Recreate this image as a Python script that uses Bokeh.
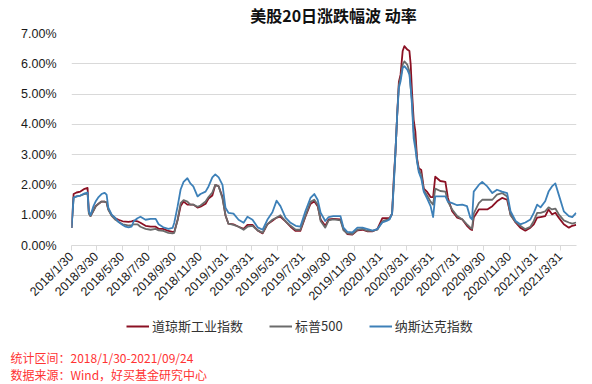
import math
from datetime import datetime, timezone
import pandas as pd
from bokeh.plotting import figure
from bokeh.layouts import column
from bokeh.models import Range1d, FixedTicker, Legend, LegendItem, Label
from bokeh.embed import file_html
from bokeh.resources import INLINE

# ---------------- data ----------------
dates = [
    "2018-01-30", "2018-02-04", "2018-02-11", "2018-02-20", "2018-03-02", "2018-03-09", "2018-03-12", "2018-03-16", "2018-03-23", "2018-03-28",
    "2018-04-04", "2018-04-11", "2018-04-18", "2018-04-23", "2018-04-27", "2018-05-05", "2018-05-14", "2018-05-21", "2018-05-31", "2018-06-07",
    "2018-06-14", "2018-06-21", "2018-06-26", "2018-07-05", "2018-07-12", "2018-07-24", "2018-08-05", "2018-08-17", "2018-08-24", "2018-09-04",
    "2018-09-16", "2018-09-26", "2018-09-30", "2018-10-08", "2018-10-15", "2018-10-22", "2018-10-31", "2018-11-07", "2018-11-14", "2018-11-24",
    "2018-12-01", "2018-12-13", "2018-12-20", "2018-12-29", "2019-01-05", "2019-01-13", "2019-01-22", "2019-01-29", "2019-02-05", "2019-02-17",
    "2019-03-01", "2019-03-13", "2019-03-22", "2019-04-03", "2019-04-15", "2019-04-27", "2019-05-08", "2019-05-20", "2019-05-30", "2019-06-08",
    "2019-06-20", "2019-07-02", "2019-07-14", "2019-07-25", "2019-08-06", "2019-08-18", "2019-08-27", "2019-09-04", "2019-09-11", "2019-09-22",
    "2019-09-30", "2019-10-11", "2019-10-28", "2019-11-04", "2019-11-13", "2019-11-25", "2019-12-07", "2019-12-19", "2019-12-31", "2020-01-12",
    "2020-01-23", "2020-02-04", "2020-02-14", "2020-02-21", "2020-02-27", "2020-03-02", "2020-03-06", "2020-03-10", "2020-03-14", "2020-03-18",
    "2020-03-23", "2020-03-27", "2020-04-03", "2020-04-08", "2020-04-11", "2020-04-14", "2020-04-18", "2020-04-22", "2020-04-26", "2020-04-30",
    "2020-05-06", "2020-05-12", "2020-05-20", "2020-05-28", "2020-06-03", "2020-06-08", "2020-06-20", "2020-07-02", "2020-07-08", "2020-07-18",
    "2020-07-30", "2020-08-11", "2020-08-22", "2020-08-30", "2020-09-03", "2020-09-07", "2020-09-19", "2020-09-27", "2020-10-09", "2020-10-21",
    "2020-11-01", "2020-11-13", "2020-11-25", "2020-12-03", "2020-12-15", "2020-12-26", "2021-01-07", "2021-01-19", "2021-01-27", "2021-02-04",
    "2021-02-12", "2021-02-23", "2021-03-03", "2021-03-11", "2021-03-19", "2021-03-27", "2021-04-08", "2021-04-20", "2021-04-28", "2021-05-07",
]

dji = [  # 道琼斯工业指数 (%)
    0.58, 1.70, 1.75, 1.78, 1.87, 1.90, 1.10, 0.97, 1.15, 1.30,
    1.38, 1.45, 1.45, 1.42, 1.20, 1.00, 0.90, 0.85, 0.80, 0.79,
    0.78, 0.80, 0.82, 0.80, 0.75, 0.65, 0.62, 0.62, 0.55, 0.55,
    0.48, 0.45, 0.45, 0.85, 1.30, 1.45, 1.35, 1.35, 1.35, 1.25,
    1.28, 1.38, 1.55, 1.65, 2.00, 1.95, 1.60, 1.00, 0.72, 0.70,
    0.62, 0.55, 0.68, 0.68, 0.50, 0.40, 0.70, 0.82, 0.92, 0.95,
    0.80, 0.62, 0.48, 0.48, 0.95, 1.37, 1.46, 1.30, 0.86, 0.65,
    0.86, 0.88, 0.86, 0.55, 0.38, 0.36, 0.50, 0.52, 0.47, 0.47,
    0.54, 0.90, 0.90, 0.90, 1.05, 2.20, 3.10, 4.30, 5.40, 5.64,
    6.42, 6.58, 6.47, 6.42, 5.97, 5.09, 4.15, 3.76, 2.88, 2.55,
    2.49, 1.88, 1.77, 1.60, 1.60, 2.27, 2.13, 2.10, 1.57, 1.13,
    0.92, 0.86, 0.65, 0.54, 0.51, 0.92, 1.19, 1.19, 1.19, 1.30,
    1.46, 1.57, 1.51, 1.03, 0.76, 0.59, 0.49, 0.59, 0.70, 0.92,
    0.94, 0.97, 1.19, 1.03, 1.08, 0.92, 0.70, 0.59, 0.65, 0.68,
]

spx = [  # 标普500 (%)
    0.58, 1.58, 1.62, 1.65, 1.70, 1.72, 1.05, 0.97, 1.15, 1.28,
    1.38, 1.45, 1.45, 1.42, 1.18, 0.98, 0.85, 0.78, 0.70, 0.68,
    0.66, 0.66, 0.70, 0.70, 0.62, 0.55, 0.52, 0.55, 0.50, 0.48,
    0.42, 0.40, 0.42, 0.85, 1.40, 1.50, 1.45, 1.35, 1.35, 1.28,
    1.32, 1.45, 1.60, 1.75, 2.00, 1.95, 1.55, 1.00, 0.72, 0.68,
    0.62, 0.52, 0.62, 0.65, 0.50, 0.42, 0.70, 0.85, 0.92, 1.00,
    0.80, 0.65, 0.52, 0.52, 0.97, 1.44, 1.51, 1.35, 0.81, 0.59,
    0.83, 0.86, 0.83, 0.50, 0.40, 0.38, 0.52, 0.55, 0.48, 0.48,
    0.52, 0.80, 0.85, 0.88, 1.05, 2.10, 3.10, 4.30, 5.30, 5.53,
    5.97, 6.08, 5.97, 5.75, 5.20, 4.80, 3.76, 3.40, 2.80, 2.50,
    2.35, 1.82, 1.65, 1.45, 1.35, 1.88, 1.80, 1.78, 1.45, 1.19,
    0.97, 0.86, 0.70, 0.59, 0.55, 1.05, 1.40, 1.51, 1.51, 1.51,
    1.68, 1.73, 1.62, 1.00, 0.78, 0.65, 0.54, 0.62, 0.81, 1.08,
    1.08, 1.13, 1.26, 1.19, 1.22, 1.03, 0.83, 0.76, 0.72, 0.76,
]

ixic = [  # 纳斯达克指数 (%)
    0.58, 1.58, 1.62, 1.65, 1.72, 1.75, 1.13, 1.00, 1.30, 1.45,
    1.60, 1.70, 1.74, 1.68, 1.25, 1.02, 0.90, 0.78, 0.68, 0.62,
    0.60, 0.62, 0.80, 0.90, 0.95, 0.85, 0.88, 0.88, 0.70, 0.60,
    0.55, 0.58, 0.75, 1.30, 1.85, 2.10, 2.22, 2.05, 1.95, 1.62,
    1.70, 1.78, 1.95, 2.25, 2.35, 2.25, 2.00, 1.25, 1.08, 1.05,
    0.85, 0.75, 0.95, 0.85, 0.60, 0.52, 0.85, 1.10, 1.48, 1.30,
    0.92, 0.75, 0.65, 0.62, 1.13, 1.57, 1.70, 1.51, 1.08, 0.81,
    0.94, 0.97, 0.97, 0.59, 0.45, 0.43, 0.59, 0.59, 0.54, 0.49,
    0.54, 0.76, 0.81, 0.86, 1.05, 2.00, 3.10, 4.30, 5.20, 5.42,
    5.86, 5.92, 5.81, 5.64, 5.20, 4.65, 3.54, 3.20, 2.77, 2.43,
    2.21, 1.77, 1.55, 1.30, 0.94, 1.62, 1.62, 1.62, 1.45, 1.40,
    1.33, 1.35, 1.30, 0.92, 0.86, 1.78, 2.00, 2.10, 1.95, 1.73,
    1.84, 1.78, 1.73, 1.13, 0.81, 0.70, 0.76, 0.86, 1.08, 1.35,
    1.26, 1.46, 1.78, 1.95, 2.05, 1.68, 1.13, 0.97, 0.94, 1.08,
]

series_names = ["道琼斯工业指数", "标普500", "纳斯达克指数"]
series_colors = ["#8B1023", "#6B6B6B", "#3D80B8"]

tick_labels = [
    "2018/1/30", "2018/3/30", "2018/5/30", "2018/7/30", "2018/9/30", "2018/11/30",
    "2019/1/31", "2019/3/31", "2019/5/31", "2019/7/31", "2019/9/30", "2019/11/30",
    "2020/1/31", "2020/3/31", "2020/5/31", "2020/7/31", "2020/9/30", "2020/11/30",
    "2021/1/31", "2021/3/31",
]
y_ticks = [0, 1, 2, 3, 4, 5, 6, 7]

title_text = "美股20日涨跌幅波 动率"
notes = ["统计区间：2018/1/30-2021/09/24", "数据来源：Wind，好买基金研究中心"]


def strip(height):
    """A plain figure without axes whose data units equal pixels (y downward)."""
    f = figure(
        width=592, height=height,
        output_backend="svg", toolbar_location=None,
        x_range=Range1d(0, 592), y_range=Range1d(height, 0),
        min_border_left=0, min_border_right=0, min_border_top=0, min_border_bottom=0,
        x_axis_location=None, y_axis_location=None,
    )
    f.frame_align = False
    f.outline_line_color = None
    f.xgrid.grid_line_color = None
    f.ygrid.grid_line_color = None
    f.background_fill_color = "white"
    f.border_fill_color = "white"
    return f


# ---------------- title strip ----------------
TITLE_H = 25
t = strip(TITLE_H)
t.add_layout(Label(x=333, y=14, text=title_text, text_align="center", text_baseline="middle",
                   text_font="Noto Sans CJK SC", text_font_size="16px",
                   text_font_style="bold", text_color="#111111"))

# ---------------- main chart ----------------
x = pd.to_datetime(dates)


def to_ms(label):
    d = datetime.strptime(label, "%Y/%m/%d").replace(tzinfo=timezone.utc)
    return d.timestamp() * 1000.0


tick_ms = [to_ms(tk) for tk in tick_labels]

MAIN_H = 287
p = figure(
    width=592, height=MAIN_H,
    output_backend="svg", toolbar_location=None,
    x_axis_type="datetime",
    x_range=Range1d(pd.Timestamp("2018-01-30"), pd.Timestamp("2021-05-08")),
    y_range=Range1d(0, 7),
    min_border_left=71, min_border_right=16, min_border_top=33 - TITLE_H,
    min_border_bottom=MAIN_H - (245 - TITLE_H),
)
p.frame_align = False
p.outline_line_color = None
p.background_fill_color = "white"
p.border_fill_color = "white"

for vals, col in zip([dji, spx, ixic], series_colors):
    p.line(x, vals, line_color=col, line_width=1.8, line_join="round")

xa = p.xaxis[0]
xa.ticker = FixedTicker(ticks=tick_ms)
xa.major_label_overrides = {tk: l for tk, l in zip(tick_ms, tick_labels)}
xa.major_label_orientation = math.pi / 4
xa.axis_line_color = "#D9D9D9"
xa.major_tick_line_color = "#D9D9D9"
xa.major_tick_in = 0
xa.major_tick_out = 5
xa.minor_tick_line_color = None
xa.major_label_text_font = "Liberation Sans"
xa.major_label_text_font_size = "12.5px"
xa.major_label_text_color = "#1a1a1a"
xa.major_label_standoff = 4

ya = p.yaxis[0]
ya.ticker = FixedTicker(ticks=y_ticks)
ya.major_label_overrides = {v: f"{v:.2f}%" for v in y_ticks}
ya.axis_line_color = None
ya.major_tick_line_color = None
ya.minor_tick_line_color = None
ya.major_label_text_font = "Liberation Sans"
ya.major_label_text_font_size = "12.5px"
ya.major_label_text_color = "#1a1a1a"
ya.major_label_standoff = 9

p.xgrid.grid_line_color = None
p.ygrid.ticker = FixedTicker(ticks=y_ticks)
p.ygrid.grid_line_color = "#D9D9D9"
p.ygrid.grid_line_width = 1

# ---------------- legend + notes strip ----------------
BOT_H = 384 - TITLE_H - MAIN_H
q = strip(BOT_H)

nan = float("nan")
legend_renderers = [q.line(x=[nan], y=[nan], line_color=c, line_width=2) for c in series_colors]
legend = Legend(
    items=[LegendItem(label=n, renderers=[r]) for n, r in zip(series_names, legend_renderers)],
    orientation="horizontal",
    location=(126, BOT_H - 23),
    border_line_color=None,
    background_fill_alpha=0,
    padding=0, margin=0, spacing=26,
    glyph_width=23, glyph_height=14, label_standoff=3,
    label_text_font="Noto Sans CJK SC", label_text_font_size="13px",
    label_text_color="#333333",
)
q.add_layout(legend)

y0 = 384 - BOT_H
for i, txt in enumerate(notes):
    q.add_layout(Label(x=10, y=357 + 17 * i - y0, text=txt,
                       text_align="left", text_baseline="middle",
                       text_font="Noto Sans CJK SC", text_font_size="12px",
                       text_color="#FF3333"))

layout = column(t, p, q, spacing=0)
open("out.html", "w").write(file_html(layout, INLINE))
